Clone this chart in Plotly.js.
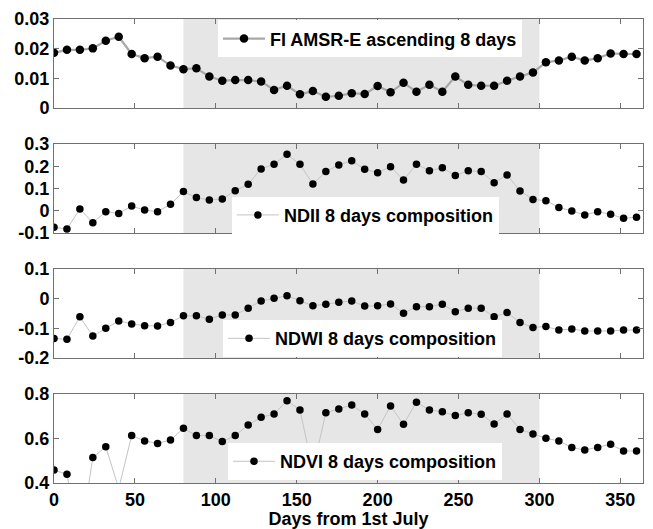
<!DOCTYPE html>
<html>
<head>
<meta charset="utf-8">
<script src="https://cdn.plot.ly/plotly-3.0.1.min.js"></script>
<style>html,body{margin:0;padding:0;background:#fff;}#chart{width:653px;height:529px;}</style>
</head>
<body>
<div id="chart"></div>
<script>
// ---- data ----
const days = [0,8,16,24,32,40,48,56,64,72,80,88,96,104,112,120,128,136,144,152,160,168,176,184,192,200,208,216,224,232,240,248,256,264,272,280,288,296,304,312,320,328,336,344,352,360];

const fiAmsre = [0.0186,0.0196,0.0196,0.0201,0.0227,0.0240,0.0182,0.0168,0.0173,0.0143,0.0131,0.0134,0.0106,0.0092,0.0094,0.0094,0.0089,0.0061,0.0075,0.0046,0.0057,0.0038,
                 0.0041,0.0050,0.0047,0.0074,0.0053,0.0085,0.0055,0.0078,0.0055,0.0106,0.0078,0.0075,0.0075,0.0092,0.0106,0.0120,0.0154,0.0160,0.0173,0.0160,0.0168,0.0184,0.0182,0.0182];

const ndii = [-0.074,-0.082,0.008,-0.054,-0.004,-0.012,0.021,0.003,-0.004,0.029,0.086,0.059,0.048,0.053,0.090,0.119,0.188,0.209,0.254,0.209,0.120,0.176,
              0.206,0.225,0.186,0.171,0.198,0.138,0.209,0.180,0.193,0.158,0.180,0.176,0.126,0.161,0.089,0.051,0.045,0.015,-0.001,-0.019,-0.004,-0.016,-0.034,-0.029];

const ndwi = [-0.134,-0.137,-0.061,-0.126,-0.100,-0.075,-0.085,-0.091,-0.092,-0.080,-0.058,-0.058,-0.069,-0.055,-0.055,-0.032,-0.008,0.001,0.010,-0.007,-0.024,-0.019,
              -0.012,-0.008,-0.025,-0.024,-0.018,-0.049,-0.027,-0.027,-0.019,-0.044,-0.032,-0.032,-0.061,-0.047,-0.080,-0.097,-0.094,-0.106,-0.102,-0.109,-0.109,-0.109,-0.106,-0.106];

const ndvi = [0.458,0.439,0.14,0.515,0.563,0.375,0.613,0.589,0.578,0.593,0.646,0.613,0.613,0.586,0.613,0.661,0.695,0.710,0.770,0.728,0.46,0.716,
              0.733,0.751,0.710,0.641,0.746,0.664,0.763,0.728,0.720,0.703,0.716,0.709,0.665,0.710,0.641,0.620,0.601,0.589,0.559,0.548,0.560,0.574,0.544,0.544];

const seriesNames = ['FI AMSR-E ascending 8 days','NDII 8 days composition','NDWI 8 days composition','NDVI 8 days composition'];
const xTickVals = [0,50,100,150,200,250,300,350];
const xTickText = ['0','50','100','150','200','250','300','350'];
const yTicks1 = [0,0.01,0.02,0.03];      const yText1 = ['0','0.01','0.02','0.03'];
const yTicks2 = [-0.1,0,0.1,0.2,0.3];    const yText2 = ['-0.1','0','0.1','0.2','0.3'];
const yTicks3 = [-0.2,-0.1,0,0.1];       const yText3 = ['-0.2','-0.1','0','0.1'];
const yTicks4 = [0.4,0.6,0.8];           const yText4 = ['0.4','0.6','0.8'];
const xTitle = 'Days from 1st July';
const shadeStart = 80, shadeEnd = 300;

// ---- styling ----
const FONT = 'Liberation Sans, Arial, sans-serif';
const axisCol = '#707070';
const tickFont = {family: FONT, size: 18, color: '#000', weight: 'bold'};
const legFont = {family: FONT, size: 18, color: '#000', weight: 'bold'};

function trace(y, i, lineCol, lineW, msize) {
  const sfx = i === 1 ? '' : String(i);
  return {
    x: days, y: y, name: seriesNames[i-1], type: 'scatter', mode: 'lines+markers',
    xaxis: 'x' + sfx, yaxis: 'y' + sfx, legend: 'legend' + sfx,
    line: {color: lineCol, width: lineW},
    marker: {color: '#000', size: msize},
    cliponaxis: true
  };
}

const data = [
  trace(fiAmsre, 1, '#a8a8a8', 2.2, 8.5),
  trace(ndii, 2, '#c4c4c4', 1, 7.5),
  trace(ndwi, 3, '#c4c4c4', 1, 7.5),
  trace(ndvi, 4, '#c4c4c4', 1, 7.5)
];

const H = 464;
const doms = [[375/H, 1], [250/H, 339/H], [125/H, 214/H], [0, 89/H]];

function xax(i, showLabels) {
  return {
    domain: [0, 1], range: [0, 364], anchor: 'y' + (i === 1 ? '' : i),
    tickvals: xTickVals, ticktext: xTickText, showticklabels: showLabels,
    ticks: 'inside', ticklen: 5, tickcolor: axisCol, tickwidth: 1,
    showline: true, linecolor: axisCol, linewidth: 1, mirror: 'ticks',
    showgrid: false, zeroline: false, tickfont: tickFont, automargin: false
  };
}
function yax(i, range, tv, tt) {
  return {
    domain: doms[i-1], range: range, anchor: 'x' + (i === 1 ? '' : i),
    tickvals: tv, ticktext: tt,
    ticks: 'inside', ticklen: 5, tickcolor: axisCol, tickwidth: 1,
    showline: true, linecolor: axisCol, linewidth: 1, mirror: 'ticks',
    showgrid: false, zeroline: false, tickfont: tickFont, automargin: false
  };
}

function legend(x, y) {
  return {x: x, y: y, xanchor: 'left', yanchor: 'top', xref: 'paper', yref: 'paper',
          bgcolor: '#ffffff', borderwidth: 0, font: legFont, itemclick: false,
          itemwidth: 42, tracegroupgap: 0};
}

function shade(i) {
  const sfx = i === 1 ? '' : String(i);
  return {type: 'rect', layer: 'below', xref: 'x' + sfx, yref: 'y' + sfx + ' domain',
          x0: shadeStart, x1: shadeEnd, y0: 0, y1: 1,
          fillcolor: '#e6e6e6', line: {width: 0}};
}

const x4 = xax(4, true);
x4.title = {text: xTitle, font: {family: FONT, size: 18, color: '#000', weight: 'bold'}, standoff: 2};

const layout = {
  width: 653, height: 529,
  margin: {l: 54, r: 10, t: 19, b: 46},
  paper_bgcolor: '#fff', plot_bgcolor: '#fff',
  showlegend: true,
  xaxis: xax(1, false), xaxis2: xax(2, false), xaxis3: xax(3, false), xaxis4: x4,
  yaxis: yax(1, [0, 0.03], yTicks1, yText1),
  yaxis2: yax(2, [-0.1, 0.3], yTicks2, yText2),
  yaxis3: yax(3, [-0.2, 0.1], yTicks3, yText3),
  yaxis4: yax(4, [0.4, 0.8], yTicks4, yText4),
  legend: legend(0.2784, 0.997),
  legend2: legend(0.302, 0.617),
  legend3: legend(0.287, 0.351),
  legend4: legend(0.2954, 0.086),
  shapes: [shade(1), shade(2), shade(3), shade(4)]
};

Plotly.newPlot('chart', data, layout, {displayModeBar: false, staticPlot: true});
</script>
</body>
</html>
